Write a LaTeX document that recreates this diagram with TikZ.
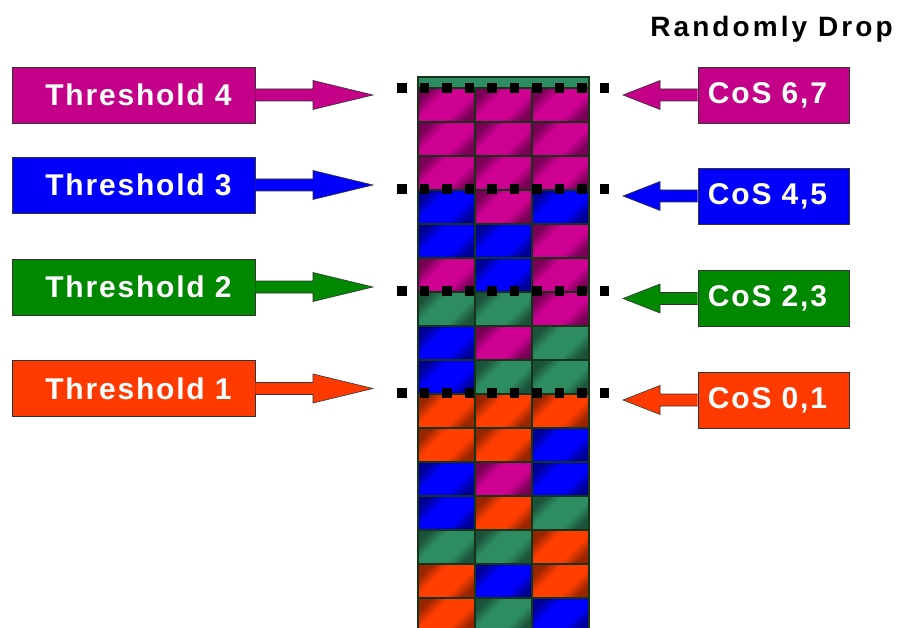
\documentclass[tikz,border=0pt]{standalone}
\usepackage{fontspec}
\setmainfont{Liberation Sans}
\newfontfamily\lblfont[LetterSpace=6]{Liberation Sans}
\newfontfamily\dropfont[LetterSpace=11]{Liberation Sans}
\usetikzlibrary{calc}

\definecolor{mag}{RGB}{196,0,136}
\definecolor{blu}{RGB}{0,0,250}
\definecolor{grn}{RGB}{0,136,0}
\definecolor{org}{RGB}{255,58,0}
\definecolor{cM}{RGB}{205,0,145}
\definecolor{cB}{RGB}{0,0,255}
\definecolor{cG}{RGB}{45,140,98}
\definecolor{cR}{RGB}{255,62,0}
\definecolor{sep}{RGB}{22,52,22}
\colorlet{cellc}{cM}

% diagonal shine of one queue cell
\pgfdeclareverticalshading[cellc]{cellshine}{100bp}{color(0bp)=(cellc!55!black); color(25bp)=(cellc!60!black);
    color(38bp)=(cellc); color(62bp)=(cellc); color(75bp)=(cellc!60!black); color(100bp)=(cellc!55!black)}

% block arrow: start anchor, tip, signed head length, colour
\newcommand{\blockarr}[4]{%
  \draw[arr, fill=#4] ($(#1)+(0,-6)$) -- ($(#2)+(#3,-6)$) -- ($(#2)+(#3,-14.5)$) -- (#2)
    -- ($(#2)+(#3,14.5)$) -- ($(#2)+(#3,6)$) -- ($(#1)+(0,6)$);}

\begin{document}
\begin{tikzpicture}[x=1pt, y=-1pt,
    box/.style={draw=black!80, line width=0.8pt, minimum width=243pt, minimum height=56pt, inner sep=0pt,
        text=white, font=\lblfont\bfseries\fontsize{30}{30}\selectfont},
    cbox/.style={box, minimum width=151pt},
    arr/.style={draw=black!80, line width=0.6pt},
    cell/.style={draw=sep, line width=1.5pt, shading=cellshine, shading angle=45}]
    \useasboundingbox (0,0) rectangle (904,628);

    % queue column
    \fill[cG] (418,77) rectangle (589,88);
    \foreach \a/\b/\c [count=\i from 0] in {cM/cM/cM, cM/cM/cM, cM/cM/cM, cB/cM/cB, cB/cB/cM, cM/cB/cM,
        cG/cG/cM, cB/cM/cG, cB/cG/cG, cR/cR/cR, cR/cR/cB, cB/cM/cB, cB/cR/cG, cG/cG/cR, cR/cB/cR, cR/cG/cB} {
        \colorlet{cellc}{\a}
        \path[cell] (418,88+34*\i) rectangle +(57,34);
        \colorlet{cellc}{\b}
        \path[cell] (475,88+34*\i) rectangle +(57,34);
        \colorlet{cellc}{\c}
        \path[cell] (532,88+34*\i) rectangle +(57,34);
    }
    \draw[sep, line width=1.5pt] (418,77) rectangle (589,640);

    % threshold lines
    \foreach \y in {88,189,291,393}
        \foreach \k in {0,...,9}
            \fill (397+22.5*\k,\y-4.75) rectangle +(9.5,9.5);

    \node[box, fill=mag] (t4) at (133.5,95) {\hspace*{10pt}Threshold 4};
    \node[box, fill=blu] (t3) at (133.5,185) {\hspace*{10pt}Threshold 3};
    \node[box, fill=grn] (t2) at (133.5,287) {\hspace*{10pt}Threshold 2};
    \node[box, fill=org] (t1) at (133.5,388.5) {\hspace*{10pt}Threshold 1};

    \node[cbox, fill=mag] (c67) at (773.5,95) {CoS 6,7\hspace*{12pt}};
    \node[cbox, fill=blu] (c45) at (773.5,196) {CoS 4,5\hspace*{12pt}};
    \node[cbox, fill=grn] (c23) at (773.5,298.5) {CoS 2,3\hspace*{12pt}};
    \node[cbox, fill=org] (c01) at (773.5,400) {CoS 0,1\hspace*{12pt}};

    \node[anchor=base, font=\dropfont\bfseries\fontsize{28}{28}\selectfont] (rd) at (771.5,37) {Randomly Drop};

    \coordinate (p4) at (373,95);
    \coordinate (p3) at (373,185);
    \coordinate (p2) at (373,287);
    \coordinate (p1) at (373,388.5);
    \coordinate (q67) at (623,95);
    \coordinate (q45) at (623,196);
    \coordinate (q23) at (623,298.5);
    \coordinate (q01) at (623,400);

    \blockarr{t4.east}{p4}{-60}{mag}
    \blockarr{t3.east}{p3}{-60}{blu}
    \blockarr{t2.east}{p2}{-60}{grn}
    \blockarr{t1.east}{p1}{-60}{org}

    \blockarr{c67.west}{q67}{37}{mag}
    \blockarr{c45.west}{q45}{37}{blu}
    \blockarr{c23.west}{q23}{37}{grn}
    \blockarr{c01.west}{q01}{37}{org}

\end{tikzpicture}
\end{document}
